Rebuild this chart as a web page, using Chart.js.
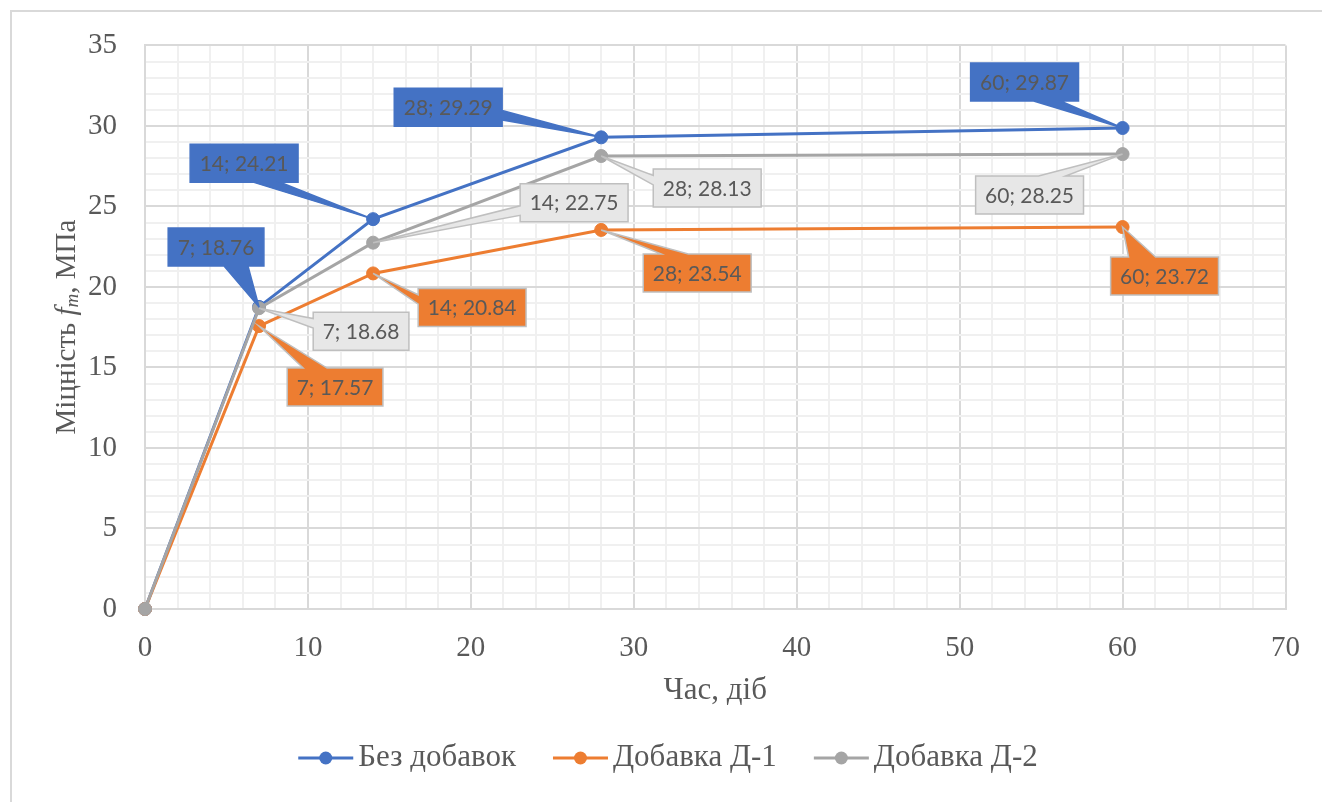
<!DOCTYPE html>
<html>
<head>
<meta charset="utf-8">
<script src="https://cdn.jsdelivr.net/npm/chart.js@4.4.0/dist/chart.umd.min.js"></script>
<style>
  html, body { margin: 0; padding: 0; background: #fff; }
</style>
</head>
<body>
<canvas id="chart" width="1322" height="802"></canvas>
<script>
// curing time, days
var days = [0, 7, 14, 28, 60];
// compressive strength, MPa
var noAdditive = [0, 18.76, 24.21, 29.29, 29.87];
var additiveD1 = [0, 17.57, 20.84, 23.54, 23.72];
var additiveD2 = [0, 18.68, 22.75, 28.13, 28.25];
var seriesNames = ['Без добавок', 'Добавка Д-1', 'Добавка Д-2'];
var xTicks = [0, 10, 20, 30, 40, 50, 60, 70];
var yTicks = [0, 5, 10, 15, 20, 25, 30, 35];

var colors = ['#4472C4', '#ED7D31', '#A5A5A5'];
var calloutFill = ['#4472C4', '#ED7D31', '#E7E7E7'];
var calloutEdge = ['#4472C4', '#BFBFBF', '#BFBFBF'];

// where each callout box sits relative to its point (box centre, px)
var calloutOffsets = [
  [null, [-43, -60], [-129, -56], [-153, -30], [-98, -46]],
  [null, [76, 61], [99, 34], [96, 43], [42, 49]],
  [null, [102, 23], [201, -40], [106, 32], [-93, 41]]
];

var serifFont = 'Liberation Serif';
var textGrey = '#595959';
var majorGrid = '#D9D9D9';
var minorGrid = '#F0F0F0';

function toPoints(vals) {
  return days.map(function (d, i) { return { x: d, y: vals[i] }; });
}

var allSeries = [noAdditive, additiveD1, additiveD2];
var datasets = allSeries.map(function (vals, k) {
  return {
    label: seriesNames[k],
    data: toPoints(vals),
    borderColor: colors[k],
    backgroundColor: colors[k],
    borderWidth: 3,
    pointRadius: 6.5,
    pointBorderWidth: 1,
    pointBackgroundColor: colors[k],
    pointBorderColor: colors[k],
    tension: 0,
    clip: false,
    order: 3 - k
  };
});

// rectangle with a wedge pointing at (tx, ty), like office callouts
function wedgePath(ctx, l, t, w, h, tx, ty) {
  var r = l + w, b = t + h;
  var dx = tx - (l + w / 2), dy = ty - (t + h / 2);
  var horiz = Math.abs(dx) / w > Math.abs(dy) / h;
  var x1 = l + w * (dx > 0 ? 7 : 2) / 12, x2 = l + w * (dx > 0 ? 10 : 5) / 12;
  var y1 = t + h * (dy > 0 ? 7 : 2) / 12, y2 = t + h * (dy > 0 ? 10 : 5) / 12;
  ctx.beginPath();
  ctx.moveTo(l, t);
  if (!horiz && dy < 0) { ctx.lineTo(x1, t); ctx.lineTo(tx, ty); ctx.lineTo(x2, t); }
  ctx.lineTo(r, t);
  if (horiz && dx > 0) { ctx.lineTo(r, y1); ctx.lineTo(tx, ty); ctx.lineTo(r, y2); }
  ctx.lineTo(r, b);
  if (!horiz && dy > 0) { ctx.lineTo(x2, b); ctx.lineTo(tx, ty); ctx.lineTo(x1, b); }
  ctx.lineTo(l, b);
  if (horiz && dx < 0) { ctx.lineTo(l, y2); ctx.lineTo(tx, ty); ctx.lineTo(l, y1); }
  ctx.closePath();
}

var calloutPlugin = {
  id: 'callouts',
  afterDatasetsDraw: function (chart) {
    var ctx = chart.ctx;
    ctx.save();
    ctx.font = '21px Lato';
    ctx.textAlign = 'center';
    ctx.textBaseline = 'middle';
    chart.data.datasets.forEach(function (ds, k) {
      var meta = chart.getDatasetMeta(k);
      meta.data.forEach(function (pt, i) {
        var off = calloutOffsets[k][i];
        if (!off) return;
        var txt = ds.data[i].x + '; ' + ds.data[i].y.toFixed(2);
        var w = ctx.measureText(txt).width + 19, h = 38;
        var cx = pt.x + off[0], cy = pt.y + off[1];
        wedgePath(ctx, cx - w / 2, cy - h / 2, w, h, pt.x, pt.y);
        ctx.fillStyle = calloutFill[k];
        ctx.fill();
        ctx.lineWidth = 1.5;
        ctx.strokeStyle = calloutEdge[k];
        ctx.stroke();
        ctx.fillStyle = textGrey;
        ctx.fillText(txt, cx, cy + 1);
      });
    });
    ctx.restore();
  }
};

var framePlugin = {
  id: 'frame',
  beforeDraw: function (chart) {
    var ctx = chart.ctx;
    ctx.save();
    ctx.fillStyle = '#fff';
    ctx.fillRect(0, 0, chart.width, chart.height);
    ctx.strokeStyle = '#D9D9D9';
    ctx.lineWidth = 2;
    ctx.strokeRect(11, 11, chart.width + 20, chart.height + 20);
    ctx.restore();
  }
};

// y title with italic f and subscript m, plus the legend row
var extrasPlugin = {
  id: 'extras',
  afterDraw: function (chart) {
    var ctx = chart.ctx;
    ctx.save();
    var parts = [
      { t: 'Міцність ', f: '29px "' + serifFont + '"', dy: 0 },
      { t: 'f', f: 'italic 29px "' + serifFont + '"', dy: 0 },
      { t: 'm', f: 'italic 19px "' + serifFont + '"', dy: 6 },
      { t: ', МПа', f: '29px "' + serifFont + '"', dy: 0 }
    ];
    var total = 0;
    parts.forEach(function (p) { ctx.font = p.f; p.w = ctx.measureText(p.t).width; total += p.w; });
    ctx.translate(67, 327);
    ctx.rotate(-Math.PI / 2);
    ctx.fillStyle = textGrey;
    ctx.textBaseline = 'middle';
    var x = -total / 2;
    parts.forEach(function (p) {
      ctx.font = p.f;
      ctx.fillText(p.t, x, p.dy);
      x += p.w;
    });
    ctx.restore();

    // legend
    ctx.save();
    ctx.font = '31px "' + serifFont + '"';
    ctx.textBaseline = 'middle';
    var lineLen = 55, gap = 5, spacing = 37, y = 758;
    var widths = chart.data.datasets.map(function (ds) { return lineLen + gap + ctx.measureText(ds.label).width; });
    var full = widths.reduce(function (a, b) { return a + b; }, 0) + spacing * (widths.length - 1);
    var lx = 668 - full / 2;
    chart.data.datasets.forEach(function (ds, k) {
      ctx.strokeStyle = ds.borderColor;
      ctx.lineWidth = 3;
      ctx.beginPath();
      ctx.moveTo(lx, y);
      ctx.lineTo(lx + lineLen, y);
      ctx.stroke();
      ctx.fillStyle = ds.borderColor;
      ctx.beginPath();
      ctx.arc(lx + lineLen / 2, y, 6.5, 0, Math.PI * 2);
      ctx.fill();
      ctx.fillStyle = textGrey;
      ctx.fillText(ds.label, lx + lineLen + gap, y);
      lx += widths[k] + spacing;
    });
    ctx.restore();
  }
};

new Chart(document.getElementById('chart'), {
  type: 'line',
  data: { datasets: datasets },
  plugins: [framePlugin, calloutPlugin, extrasPlugin],
  options: {
    responsive: false,
    devicePixelRatio: 1,
    animation: false,
    layout: { padding: { left: 0, right: 36, top: 42, bottom: 0 } },
    plugins: { legend: { display: false }, tooltip: { enabled: false } },
    scales: {
      x: {
        type: 'linear',
        min: 0,
        max: 70,
        afterFit: function (s) { s.height = 193; },
        ticks: {
          stepSize: 2,
          autoSkip: false,
          maxRotation: 0,
          padding: 22,
          color: textGrey,
          font: { family: serifFont, size: 29 },
          callback: function (v) { return xTicks.indexOf(v) >= 0 ? v : ''; }
        },
        grid: {
          drawTicks: false,
          lineWidth: 2,
          color: function (c) { return xTicks.indexOf(c.tick.value) >= 0 ? majorGrid : minorGrid; }
        },
        border: { color: majorGrid, width: 2 },
        title: {
          display: true,
          text: 'Час, діб',
          color: textGrey,
          font: { family: serifFont, size: 31 },
          padding: { top: 0, bottom: 93 }
        }
      },
      y: {
        min: 0,
        max: 35,
        afterFit: function (s) { s.width = 145; },
        ticks: {
          stepSize: 1,
          autoSkip: false,
          padding: 28,
          color: textGrey,
          font: { family: serifFont, size: 29 },
          callback: function (v) { return yTicks.indexOf(v) >= 0 ? v : ''; }
        },
        grid: {
          drawTicks: false,
          lineWidth: 2,
          color: function (c) { return yTicks.indexOf(c.tick.value) >= 0 ? majorGrid : minorGrid; }
        },
        border: { color: majorGrid, width: 2 }
      }
    }
  }
});
</script>
</body>
</html>
